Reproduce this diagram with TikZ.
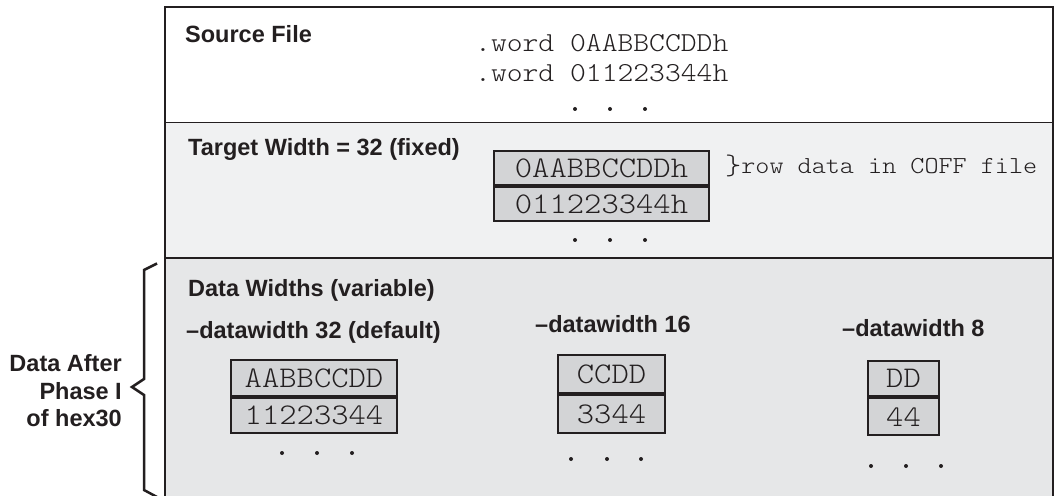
\documentclass[tikz,border=0pt]{standalone}
\usepackage{fontspec}
\setmainfont{Liberation Sans}
\newfontfamily\courfont{lmmonolt10-regular}[Extension=.otf, FakeStretch=1.1]
\definecolor{ink}{HTML}{231F20}
\definecolor{secA}{HTML}{FFFFFF}
\definecolor{secB}{HTML}{F0F1F2}
\definecolor{secC}{HTML}{E6E7E8}
\definecolor{cellgray}{HTML}{D3D4D6}
\tikzset{
  lbl/.style={font=\bfseries\fontsize{23.5bp}{28bp}\selectfont, anchor=base west, inner sep=0pt, text=ink},
  src/.style={font=\courfont\fontsize{27.4bp}{30bp}\selectfont, anchor=base west, inner sep=0pt, text=ink},
  note/.style={font=\courfont\fontsize{24.4bp}{28bp}\selectfont, anchor=base west, inner sep=0pt, text=ink},
  cell/.style={draw=ink, line width=2.2bp, fill=cellgray, inner sep=0pt, text=ink,
    font=\courfont\fontsize{30bp}{30bp}\selectfont},
  divider/.style={draw=ink, line width=1.6bp},
  border/.style={draw=ink, line width=2.8bp},
  dot/.style={fill=ink, draw=none},
}
\begin{document}
\begin{tikzpicture}[x=1bp,y=-1bp]
\useasboundingbox (0,0) rectangle (1059,496);
\clip (0,0) rectangle (1059,496);
% section fills
\fill[secA] (165,7) rectangle (1053,122.7);
\fill[secB] (165,122.7) rectangle (1053,258);
\fill[secC] (165,258) rectangle (1053,500);
\draw[divider] (165,122.7) -- (1053,122.7);
\draw[divider] (165,258) -- (1053,258);
\draw[border] (165,505) -- (165,7) -- (1053,7) -- (1053,505);

% Source file section
\node[lbl] (srcT) at (185,43) {Source File};
\node[src] (w1) at (475,52) {.word 0AABBCCDDh};
\node[src] (w2) at (475,82) {.word 011223344h};
\foreach \x in {575,610,645} \fill[dot] (\x,109) circle (2);

% Target width section
\node[lbl] (tgtT) at (188,156) {Target Width = 32 (fixed)};
\node[cell, minimum width=215bp, minimum height=34bp] (t1) at (601.5,168) {0AABBCCDDh};
\node[cell, minimum width=215bp, minimum height=34bp, anchor=north] (t2) at (t1.south) {011223344h};
\node[note] (rowd) at (725,174) {{\fontsize{28bp}{28bp}\selectfont\raisebox{-1bp}{\}}}row data in COFF file};
\foreach \x in {575,610,645} \fill[dot] (\x,240) circle (2);

% Data widths section
\node[lbl] (dwT) at (188,297) {Data Widths (variable)};
\node[lbl] (dw32) at (186,339) {–datawidth 32 (default)};
\node[lbl] (dw16) at (535,333) {–datawidth 16};
\node[lbl] (dw8) at (842,337) {–datawidth 8};

\node[cell, minimum width=166bp, minimum height=36bp] (a1) at (314,378) {AABBCCDD};
\node[cell, minimum width=166bp, minimum height=35bp, anchor=north] (a2) at (a1.south) {11223344};
\foreach \x in {282,317,352} \fill[dot] (\x,453) circle (2);

\node[cell, minimum width=107bp, minimum height=38bp] (b1) at (611.5,374) {CCDD};
\node[cell, minimum width=107bp, minimum height=38bp, anchor=north] (b2) at (b1.south) {3344};
\foreach \x in {571,607,641} \fill[dot] (\x,459) circle (2);

\node[cell, minimum width=71bp, minimum height=35bp] (c1) at (903.5,378.5) {DD};
\node[cell, minimum width=71bp, minimum height=37bp, anchor=north] (c2) at (c1.south) {44};
\foreach \x in {871,906,941} \fill[dot] (\x,466) circle (2);

% side label and brace
\node[font=\bfseries\fontsize{23.5bp}{27.5bp}\selectfont, text=ink, align=right, anchor=east, inner sep=0pt] (side) at (122,391) {Data After\\Phase I\\of hex30};
\coordinate (bt) at (157,263.5);
\coordinate (bb) at (157,497);
\coordinate (tip) at (132,387);
\draw[ink, line width=2.5bp, line join=miter] (bt) -- (144,270) -- (144,379) -- (tip) -- (144,395) -- (144,490) -- (bb);
\end{tikzpicture}
\end{document}
